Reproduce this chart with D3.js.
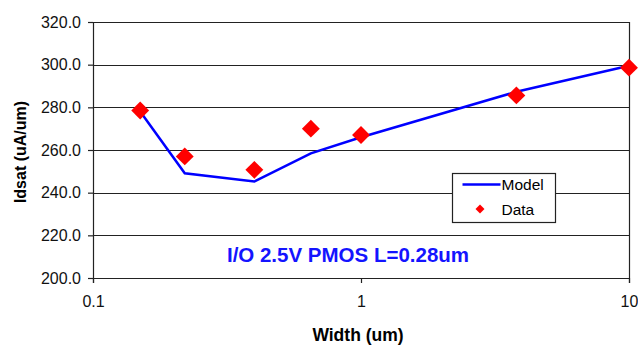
<!DOCTYPE html>
<html>
<head>
<meta charset="utf-8">
<script src="https://cdn.jsdelivr.net/npm/d3@7"></script>
<style>
  body { margin: 0; background: #fff; }
  text { font-family: "Liberation Sans", Arial, sans-serif; }
</style>
</head>
<body>
<svg id="chart" width="638" height="345"></svg>
<script>
// widths (um) and Idsat values
var widths = [0.15, 0.22, 0.4, 0.65, 1, 3.8, 10];
var modelIdsat = [278.0, 249.1, 245.2, 258.4, 266.0, 287.3, 299.5];
var dataIdsat = [278.5, 257.0, 250.7, 270.0, 267.0, 285.6, 298.6];
var yTicks = [200, 220, 240, 260, 280, 300, 320];
var xTicks = [0.1, 1, 10];

var svg = d3.select("#chart");
var margin = { top: 22, right: 9, bottom: 67, left: 93 };
var width = +svg.attr("width") - margin.left - margin.right;
var height = +svg.attr("height") - margin.top - margin.bottom;

var g = svg.append("g")
    .attr("transform", "translate(" + margin.left + "," + margin.top + ")");

var x = d3.scaleLog()
    .domain([0.1, 10])
    .range([0, width]);

var y = d3.scaleLinear()
    .domain([200, 320])
    .range([height, 0]);

// horizontal gridlines
g.selectAll(".grid")
    .data(yTicks)
    .enter()
    .append("line")
    .attr("class", "grid")
    .attr("x1", 0)
    .attr("x2", width)
    .attr("y1", function(d) { return Math.round(y(d)) + 0.5; })
    .attr("y2", function(d) { return Math.round(y(d)) + 0.5; })
    .attr("stroke", "#222")
    .attr("stroke-width", 1.2);

// right border
g.append("line")
    .attr("x1", Math.round(width) + 0.5)
    .attr("x2", Math.round(width) + 0.5)
    .attr("y1", 0)
    .attr("y2", height)
    .attr("stroke", "#222")
    .attr("stroke-width", 1.2);

var yAxis = g.append("g")
    .call(d3.axisLeft(y).tickValues(yTicks).tickSize(5).tickPadding(7)
        .tickFormat(d3.format(".1f")));

var xAxis = g.append("g")
    .attr("transform", "translate(0," + height + ")")
    .call(d3.axisBottom(x).tickValues(xTicks).tickSize(5).tickPadding(13)
        .tickFormat(function(d) { return d; }));

[yAxis, xAxis].forEach(function(ax) {
    ax.select(".domain").attr("stroke", "#222").attr("stroke-width", 1.2);
    ax.selectAll(".tick line").attr("stroke", "#222").attr("stroke-width", 1.2);
    ax.selectAll("text")
        .style("font-size", "16px")
        .style("font-family", "Liberation Sans, Arial, sans-serif")
        .attr("fill", "#111");
});

// axis titles
svg.append("text")
    .attr("text-anchor", "middle")
    .attr("transform", "rotate(-90)")
    .attr("x", -(margin.top + height / 2 + 2))
    .attr("y", 26)
    .style("font-size", "16px")
    .style("font-weight", "bold")
    .text("Idsat (uA/um)");

svg.append("text")
    .attr("text-anchor", "middle")
    .attr("x", margin.left + width / 2 - 3)
    .attr("y", 341)
    .style("font-size", "17.5px")
    .style("font-weight", "bold")
    .text("Width (um)");

// annotation
g.append("text")
    .attr("text-anchor", "middle")
    .attr("x", 255)
    .attr("y", 240)
    .attr("fill", "#1414ff")
    .style("font-size", "20.5px")
    .style("font-weight", "bold")
    .text("I/O 2.5V PMOS L=0.28um");

// model line
var line = d3.line()
    .x(function(d, i) { return x(widths[i]); })
    .y(function(d) { return y(d); });

g.append("path")
    .datum(modelIdsat)
    .attr("fill", "none")
    .attr("stroke", "#0000ff")
    .attr("stroke-width", 2.5)
    .attr("d", line);

// data diamonds
var diamond = d3.symbol().type(d3.symbolSquare).size(160);
g.selectAll(".pt")
    .data(dataIdsat)
    .enter()
    .append("path")
    .attr("class", "pt")
    .attr("d", diamond)
    .attr("transform", function(d, i) {
        return "translate(" + x(widths[i]) + "," + y(d) + ") rotate(45)";
    })
    .attr("fill", "#ff0000");

// legend
var legend = svg.append("g").attr("transform", "translate(452.5,173.5)");
legend.append("rect")
    .attr("width", 103)
    .attr("height", 49)
    .attr("fill", "#fff")
    .attr("stroke", "#222")
    .attr("stroke-width", 1.2);
legend.append("line")
    .attr("x1", 10).attr("x2", 48)
    .attr("y1", 11).attr("y2", 11)
    .attr("stroke", "#0000ff")
    .attr("stroke-width", 2.5);
legend.append("text")
    .attr("x", 49).attr("y", 16.5)
    .style("font-size", "15.5px")
    .text("Model");
legend.append("path")
    .attr("d", d3.symbol().type(d3.symbolSquare).size(40))
    .attr("transform", "translate(27.5,35.5) rotate(45)")
    .attr("fill", "#ff0000");
legend.append("text")
    .attr("x", 49).attr("y", 41)
    .style("font-size", "15.5px")
    .text("Data");
</script>
</body>
</html>
